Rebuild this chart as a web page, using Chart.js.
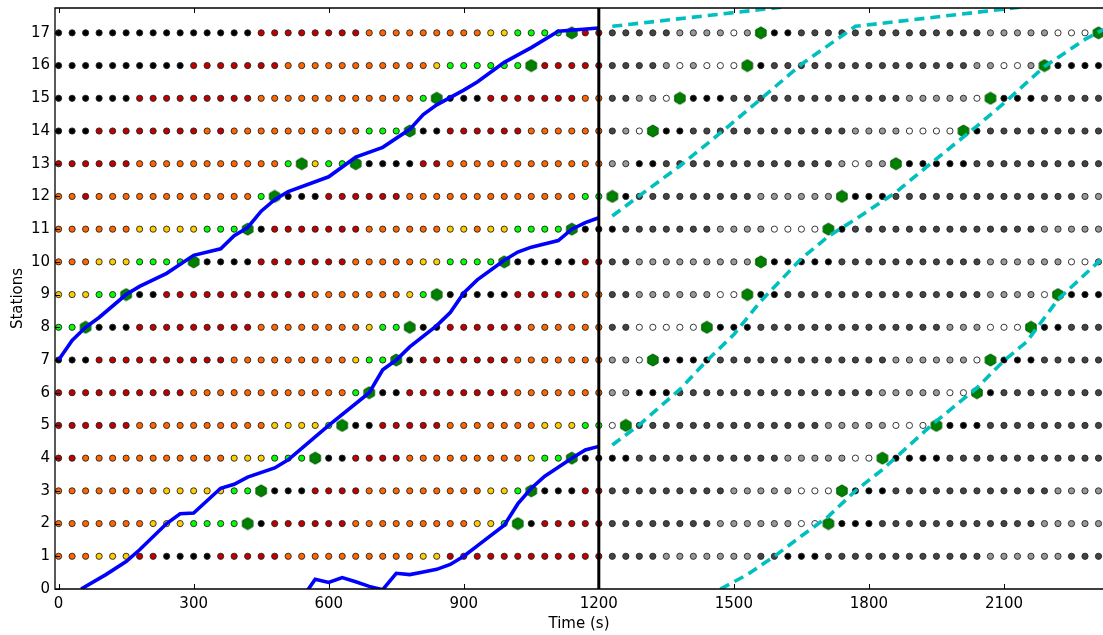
<!DOCTYPE html>
<html>
<head>
<meta charset="utf-8">
<script src="https://cdn.jsdelivr.net/npm/chart.js@4.4.1/dist/chart.umd.min.js"></script>
<style>
  html, body { margin: 0; padding: 0; background: #fff; }
  canvas { display: block; }
</style>
</head>
<body>
<canvas id="myChart" width="1103" height="635"></canvas>
<script>
// Stop states every 30 s, run-length coded, one entry per station (1..17).
// k black, r red, o orange, y yellow, g green, H bus at the stop
const pastStates = [
  'o3 y3 r2 k4 r5 o10 y2 r12',
  'o7 y3 g4 H k r6 o9 y2 g H k r5',
  'o8 y5 g2 H k3 r4 o9 y2 g H k3 r2',
  'r2 o11 y3 g3 H k2 r4 o9 y g2 H k2',
  'r6 o10 y4 g H k2 r5 o7 y3 g2',
  'r10 o12 g H k2 r8 o7',
  'k3 r10 o9 y g2 H k r7 o7',
  'g2 H k3 r9 o8 y g2 H k2 r6 o6',
  'y3 g2 H k2 r11 o7 y g H k5 r5 o2',
  'o3 y3 g4 H k4 r7 o5 y2 g4 H k5 r2',
  'o6 y5 g3 H k r7 o6 y2 o y2 g4 H k2',
  'o2 r o12 g H k3 r6 o13 g2',
  'r6 o11 g H y g2 H k4 r2 o12',
  'k3 r8 o r o10 g3 H k2 r6 o6',
  'k6 r9 o12 g H k3 r7 o2',
  'k10 r7 o11 y g6 H r5',
  'k15 r8 o9 y2 g4 H r2'
];
// Predicted states from 1230 s on: b black, d dark grey, m grey, w light, H bus
const futureStates = [
  'd4 m7 d2 b3 d12 m6 d3',
  'd8 m6 w2 H b3 d12 m5',
  'd9 m5 w3 H b3 d12 m4',
  'b2 d11 m5 w2 H b4 d12',
  'w H d14 m5 w3 H b3 d9',
  'm2 b3 d15 m5 w2 H b d8',
  'm2 w H b4 d13 m6 w H b3 d5',
  'd2 w5 H b3 d14 m3 w3 H b2 d3',
  'd2 m6 w2 H b2 d15 m4 w H b3',
  'd2 m9 H b5 d11 m6 w2 m',
  'b d7 m4 w4 H b d14 m5',
  'H b d9 m6 H b3 d14 m2',
  'm2 b2 d13 m w m2 H b5 d10',
  'd m w H b2 d12 m4 w4 H b d9',
  'd2 m2 w H b3 d13 m5 w H b3 d5',
  'd4 m w m w3 H b d15 m2 w2 m H b4',
  'd5 m4 w m H b2 d14 m5 w3 H'
];
const stepSeconds = 30;
const pastStart = 0;
const futureStart = 1230;
const nowTime = 1200;

const stationTicks = [0, 1, 2, 3, 4, 5, 6, 7, 8, 9, 10, 11, 12, 13, 14, 15, 16, 17];
const timeTicks = [0, 300, 600, 900, 1200, 1500, 1800, 2100];

// observed bus trajectories
const bus1Times = [0, 30, 60, 90, 150, 180, 240, 300, 360, 390, 420, 450, 480, 510, 570, 600, 660, 720, 780, 810, 840, 900, 930, 990, 1050, 1110, 1200];
const bus1Stations = [7, 7.6, 8.0, 8.3, 9.0, 9.25, 9.65, 10.2, 10.4, 10.8, 11.05, 11.55, 11.9, 12.15, 12.45, 12.6, 13.2, 13.5, 14.05, 14.5, 14.8, 15.25, 15.5, 16.1, 16.55, 17.05, 17.15];
const bus2Times = [50, 105, 150, 180, 240, 270, 300, 360, 390, 420, 480, 510, 540, 600, 690, 720, 750, 780, 840, 870, 900, 930, 990, 1020, 1050, 1110, 1140, 1170, 1200];
const bus2Stations = [0, 0.44, 0.84, 1.2, 2.0, 2.3, 2.32, 3.08, 3.2, 3.42, 3.7, 3.95, 4.3, 5.0, 6.0, 6.7, 7.0, 7.4, 8.05, 8.45, 9.05, 9.45, 10.05, 10.3, 10.45, 10.65, 11.0, 11.2, 11.35];
const bus3Times = [550, 570, 600, 630, 660, 690, 720, 750, 780, 810, 840, 870, 900, 930, 990, 1020, 1050, 1080, 1110, 1140, 1170, 1200];
const bus3Stations = [-0.1, 0.3, 0.2, 0.35, 0.22, 0.08, -0.02, 0.48, 0.44, 0.52, 0.6, 0.75, 1.0, 1.32, 1.95, 2.6, 3.08, 3.45, 3.72, 4.0, 4.25, 4.36];

// predicted bus trajectories
const pred1Times = [1230, 1700];
const pred1Stations = [17.2, 17.93];
const pred2Times = [1230, 1290, 1380, 1470, 1560, 1650, 1770, 2160];
const pred2Stations = [11.4, 12.02, 12.93, 13.94, 14.98, 16.04, 17.2, 17.82];
const pred3Times = [1230, 1290, 1380, 1440, 1500, 1560, 1650, 1710, 1770, 1860, 1950, 2040, 2100, 2190, 2280, 2320];
const pred3Stations = [4.4, 5.02, 6.1, 6.98, 7.78, 8.8, 10.1, 10.78, 11.3, 12.13, 13.15, 14.15, 14.85, 15.97, 16.8, 17.1];
const pred4Times = [1470, 1530, 1590, 1650, 1710, 1770, 1830, 1940, 2040, 2100, 2150, 2220, 2320];
const pred4Stations = [0, 0.44, 1.0, 1.62, 2.22, 3.0, 3.65, 5.02, 6.15, 6.98, 7.55, 8.85, 10.13];

const stateColors = {
  k: '#000000', r: '#c00000', o: '#ff6600', y: '#ffcc00', g: '#00ff00',
  b: '#000000', d: '#444444', m: '#999999', w: '#ffffff'
};

function decode(rle) {
  let out = '';
  rle.split(' ').forEach(tok => {
    const n = tok.length > 1 ? parseInt(tok.slice(1), 10) : 1;
    out += tok[0].repeat(n);
  });
  return out;
}

// split every stop state into one scatter dataset per colour
const pointsByState = {};
const busPoints = [];
function addRow(codes, station, start) {
  decode(codes).split('').forEach((c, i) => {
    const pt = { x: start + i * stepSeconds, y: station };
    if (c === 'H') { busPoints.push(pt); return; }
    (pointsByState[c] = pointsByState[c] || []).push(pt);
  });
}
pastStates.forEach((row, i) => addRow(row, i + 1, pastStart));
futureStates.forEach((row, i) => addRow(row, i + 1, futureStart));

function hexMarker(r) {
  const c = document.createElement('canvas');
  const size = Math.ceil(r * 2 + 2);
  c.width = c.height = size;
  const g = c.getContext('2d');
  g.beginPath();
  for (let i = 0; i < 6; i++) {
    const a = Math.PI / 2 + i * Math.PI / 3;
    const px = size / 2 + r * Math.cos(a), py = size / 2 - r * Math.sin(a);
    if (i === 0) g.moveTo(px, py); else g.lineTo(px, py);
  }
  g.closePath();
  g.fillStyle = '#008000';
  g.fill();
  g.strokeStyle = '#005500';
  g.lineWidth = 1;
  g.stroke();
  return c;
}

const zip = (xs, ys) => xs.map((x, i) => ({ x: x, y: ys[i] }));

var datasets = [];
Object.keys(pointsByState).forEach(c => {
  datasets.push({
    data: pointsByState[c],
    backgroundColor: stateColors[c],
    borderColor: '#222222',
    borderWidth: 0.9,
    pointRadius: 3.1,
    pointHoverRadius: 3.1,
    clip: false,
    order: 4
  });
});
datasets.push({
  data: busPoints,
  pointStyle: hexMarker(6),
  pointRadius: 6,
  clip: false,
  order: 3
});

function track(times, stations, color, dashed) {
  return {
    data: zip(times, stations),
    showLine: true,
    borderColor: color,
    borderWidth: 3.6,
    borderDash: dashed ? [10, 6] : [],
    pointRadius: 0,
    clip: 0,
    order: 2
  };
}
datasets.push(track(bus1Times, bus1Stations, '#0000ff', false));
datasets.push(track(bus2Times, bus2Stations, '#0000ff', false));
datasets.push(track(bus3Times, bus3Stations, '#0000ff', false));
datasets.push(track(pred1Times, pred1Stations, '#00bfbf', true));
datasets.push(track(pred2Times, pred2Stations, '#00bfbf', true));
datasets.push(track(pred3Times, pred3Stations, '#00bfbf', true));
datasets.push(track(pred4Times, pred4Stations, '#00bfbf', true));

// "now" marker
datasets.push({
  data: [{ x: nowTime, y: 0 }, { x: nowTime, y: 18 }],
  showLine: true,
  borderColor: '#000000',
  borderWidth: 3,
  pointRadius: 0,
  clip: 0,
  order: 1
});

// matplotlib-like frame with inward ticks
const frameTicks = {
  id: 'frameTicks',
  afterDatasetsDraw(chart) {
    const { ctx, chartArea: a, scales: { x, y } } = chart;
    ctx.save();
    ctx.strokeStyle = '#000';
    ctx.lineWidth = 1;
    ctx.beginPath();
    timeTicks.forEach(t => {
      const px = Math.round(x.getPixelForValue(t)) + 0.5;
      ctx.moveTo(px, a.bottom); ctx.lineTo(px, a.bottom - 5);
      ctx.moveTo(px, a.top); ctx.lineTo(px, a.top + 5);
    });
    stationTicks.forEach(s => {
      const py = Math.round(y.getPixelForValue(s)) + 0.5;
      ctx.moveTo(a.left, py); ctx.lineTo(a.left + 5, py);
    });
    ctx.stroke();
    ctx.lineWidth = 1.3;
    ctx.beginPath();
    ctx.moveTo(a.right, a.top); ctx.lineTo(a.left, a.top);
    ctx.lineTo(a.left, a.bottom); ctx.lineTo(a.right, a.bottom);
    ctx.stroke();
    ctx.restore();
  }
};

const tickFont = { family: 'DejaVu Sans', size: 15 };

var ctx = document.getElementById('myChart').getContext('2d');
var myChart = new Chart(ctx, {
  type: 'scatter',
  data: { datasets: datasets },
  options: {
    responsive: false,
    animation: false,
    events: [],
    layout: { autoPadding: false, padding: { top: 8, right: 0, left: 0, bottom: 0 } },
    plugins: { legend: { display: false }, tooltip: { enabled: false } },
    scales: {
      x: {
        type: 'linear',
        min: -8,
        max: 2320,
        grid: { display: false, drawTicks: false },
        border: { display: false },
        afterBuildTicks: axis => { axis.ticks = timeTicks.map(v => ({ value: v })); },
        afterFit: axis => { axis.height = 46; axis.paddingLeft = 0; axis.paddingRight = 0; },
        ticks: { color: '#000', font: tickFont, padding: 6, maxRotation: 0, autoSkip: false, callback: v => String(v) },
        title: { display: true, text: 'Time (s)', color: '#000', font: tickFont, padding: { top: 0, bottom: 2 } }
      },
      y: {
        type: 'linear',
        min: 0,
        max: 17.76,
        grid: { display: false, drawTicks: false },
        border: { display: false },
        afterBuildTicks: axis => { axis.ticks = stationTicks.map(v => ({ value: v })); },
        afterFit: axis => { axis.width = 55; axis.paddingTop = 0; axis.paddingBottom = 0; },
        ticks: { color: '#000', font: tickFont, padding: 5, autoSkip: false, callback: v => String(v) },
        title: { display: true, text: 'Stations', color: '#000', font: tickFont, padding: { top: 9, bottom: 0 } }
      }
    }
  },
  plugins: [frameTicks]
});
</script>
</body>
</html>
